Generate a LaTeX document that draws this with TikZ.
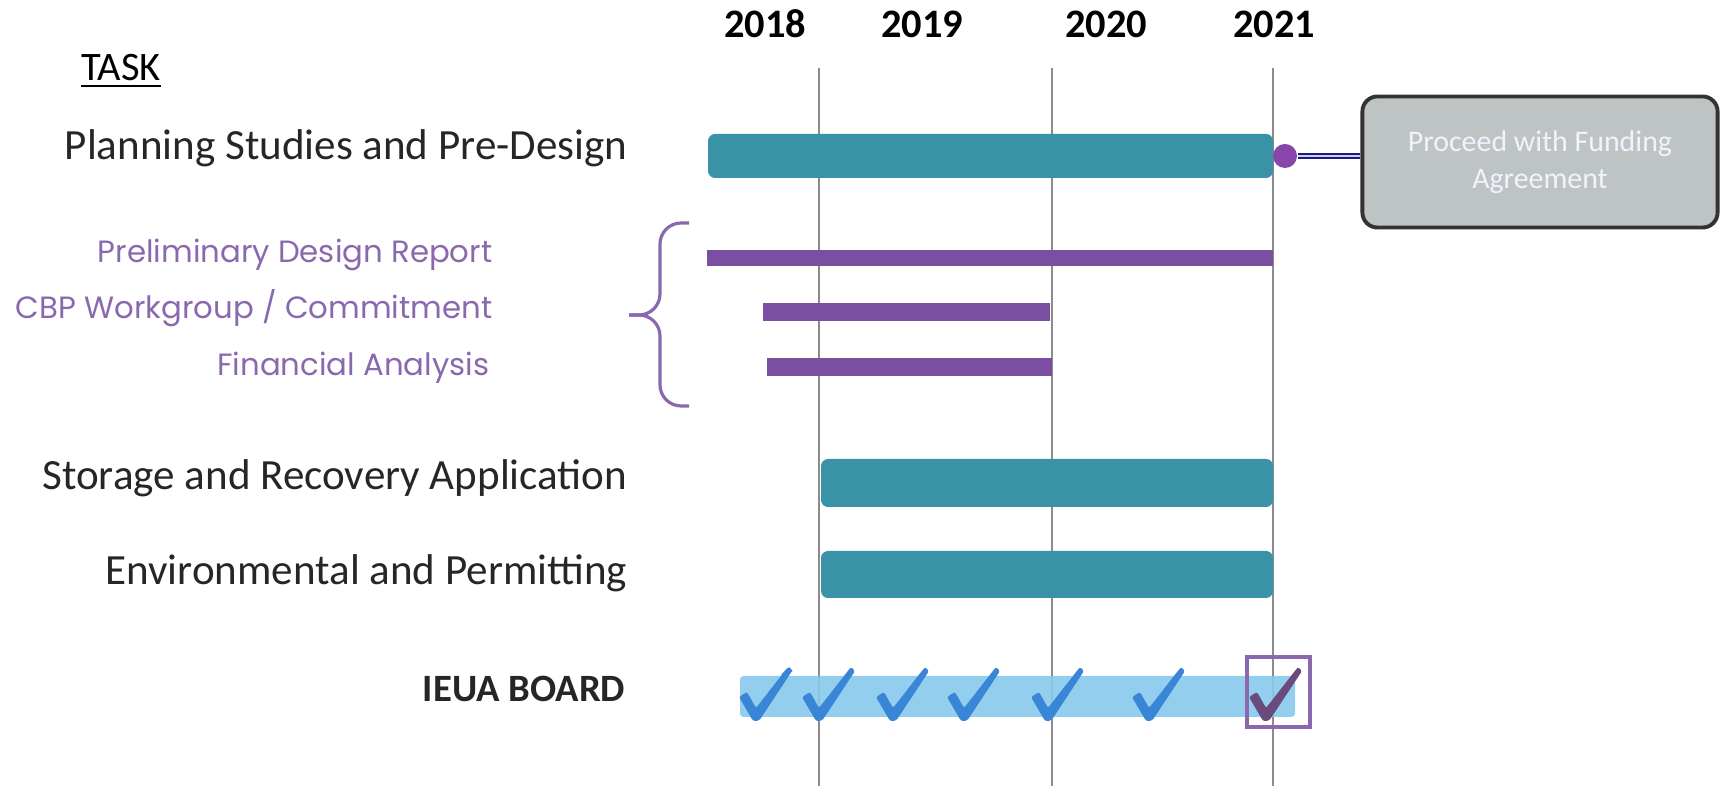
\documentclass[tikz,border=0pt]{standalone}
\usepackage{fontspec}
\setmainfont{Carlito}
\newfontfamily\gothic{Poppins}
\usetikzlibrary{positioning}

\definecolor{tealbar}{HTML}{3A92A6}
\definecolor{subpurple}{HTML}{8A68AE}
\definecolor{barpurple}{HTML}{7A4EA0}
\definecolor{boardblue}{HTML}{88C9EC}
\definecolor{tickblue}{HTML}{3A86D6}
\definecolor{tickdark}{HTML}{6A4B7E}
\definecolor{boxgray}{HTML}{BEC4C4}
\definecolor{navyline}{HTML}{1C1C78}

\begin{document}
\begin{tikzpicture}[x=0.01cm, y=-0.01cm,
    task/.style={anchor=base east, inner sep=0pt, text=black!85, font=\fontsize{12.25}{14}\selectfont},
    subtask/.style={anchor=base east, inner sep=0pt, text=subpurple, font=\gothic\fontsize{8.75}{10}\selectfont},
    year/.style={anchor=base, inner sep=0pt, font=\bfseries\fontsize{11.5}{13}\selectfont},
    yearline/.style={draw=black!45, line width=0.45pt},
    tick/.pic={\fill[pic actions, rounded corners=0.6]
      (-16,-22) -- (-8,-27) -- (1,-11) -- (33,-52) -- (37,-48) -- (4,2) -- (-2,2) -- cycle;}]
  \useasboundingbox (0,0) rectangle (1721,786);

  % year headers
  \node[year] (y2018) at (765,38) {2018};
  \node[year] (y2019) at (922,38) {2019};
  \node[year] (y2020) at (1106,38) {2020};
  \node[year] (y2021) at (1274,38) {2021};

  % year lines
  \draw[yearline] (819,68) -- (819,786);
  \draw[yearline] (1052,68) -- (1052,786);
  \draw[yearline] (1273,68) -- (1273,786);

  % task labels
  \node[anchor=base, inner sep=0pt, font=\fontsize{11.5}{13}\selectfont] (tasks) at (121,81) {\underline{TASK}};
  \node[task] (plan) at (628,160) {Planning Studies and Pre-Design};
  \node[subtask] (pdr) at (493,263) {Preliminary Design Report};
  \node[subtask] (cbp) at (493,319) {CBP Workgroup / Commitment};
  \node[subtask] (fin) at (490,376) {Financial Analysis};
  \node[task] (stor) at (628,490) {Storage and Recovery Application};
  \node[task] (env) at (628,585) {Environmental and Permitting};
  \node[task, font=\bfseries\fontsize{11}{13}\selectfont] (board) at (626,702) {IEUA BOARD};

  % brace
  \draw[subpurple, line width=0.9pt, rounded corners=6] (689,223) -| (660,315) -- (629,315);
  \draw[subpurple, line width=0.9pt, rounded corners=6] (629,315) -- (660,315) |- (689,406);

  % bars
  \fill[tealbar, rounded corners=2pt] (708,134) rectangle (1273,178);
  \fill[barpurple] (707,250) rectangle (1273,266);
  \fill[barpurple] (763,303) rectangle (1050,321);
  \fill[barpurple] (767,358) rectangle (1052,376);
  \fill[tealbar, rounded corners=2pt] (821,459) rectangle (1273,507);
  \fill[tealbar, rounded corners=2pt] (821,551) rectangle (1273,598);
  \fill[boardblue, opacity=0.9, rounded corners=1pt] (740,676) rectangle (1295,717);

  % milestone
  \node[circle, fill=barpurple!90!magenta, minimum size=0.24cm, inner sep=0pt] (dot) at (1285,156) {};
  \node[draw=black!80, line width=1.1pt, fill=boxgray, rounded corners=0.15cm,
    minimum width=3.55cm, minimum height=1.31cm, align=center, text=white!95!blue,
    font=\fontsize{8.5}{10.5}\selectfont] (fund) at (1540,162) {Proceed with Funding\\Agreement};
  \draw[navyline, line width=0.7pt, double=blue!20, double distance=0.35pt] (dot) -- (dot -| fund.west);

  % board checks
  \foreach \cx in {755,818,892,963,1047,1148}
    \pic[fill=tickblue] at (\cx,719) {tick};
  \draw[tickblue, line width=1.4pt] (783,676) -- (791,669);
  \pic[fill=tickdark] at (1265,719) {tick};
  \draw[subpurple, line width=1.2pt] (1247,657) rectangle (1310,727);
\end{tikzpicture}
\end{document}
